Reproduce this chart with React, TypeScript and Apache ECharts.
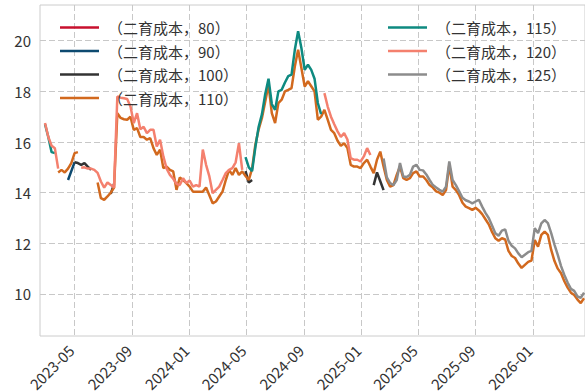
import React, { useEffect, useRef } from 'react';
import * as echarts from 'echarts';

// Weekly observations, first week starting on this date
const START_DATE = '2023-02-27';
const N_POINTS = 165;

const tickDates = ['2023-05-01', '2023-09-01', '2024-01-01', '2024-05-01', '2024-09-01', '2025-01-01', '2025-05-01', '2025-09-01', '2026-01-01'];
const yTicks = [10, 12, 14, 16, 18, 20];

const names = ['（二育成本，80）', '（二育成本，90）', '（二育成本，100）', '（二育成本，110）', '（二育成本，115）', '（二育成本，120）', '（二育成本，125）'];
const colors = ['#c8102e', '#0d4a70', '#333333', '#d2691e', '#0e8a80', '#f4806e', '#8c8c8c'];

// segments: [start week index, values]
const s80: Array<[number, number[]]> = [];
const s90: Array<[number, number[]]> = [[7, [14.5, 14.85, 15.2]]];
const s100: Array<[number, number[]]> = [
  [9, [15.2, 15.17, 15.1, 15.17, 15.03, 14.9]],
  [20, [13.95, 14.35]],
  [61, [14.85, 14.4, 14.5]],
  [100, [14.3, 14.8, 14.45, 14.1]],
];
const s110: Array<[number, number[]]> = [
  [4, [14.8, 14.9, 14.8, 14.95, 15.17, 15.56, 15.6]],
  [16, [
    14.4, 13.78, 13.72, 13.85, 14.0, 14.2, 17.14, 16.95, 16.9, 16.88,
    17.0, 16.48, 16.55, 16.2, 16.2, 16.09, 16.15, 15.76, 15.49, 15.7,
    14.97, 15.03, 14.9, 14.84, 14.11, 14.6, 14.5, 14.38, 14.24, 14.04,
    14.04, 14.04, 14.04, 14.2, 13.9, 13.58, 13.65, 13.85, 14.04, 14.5,
    14.9, 14.7, 14.97, 14.7, 14.84, 14.66, 14.5, 14.95, 15.9, 16.5,
    16.95, 17.6, 18.26, 17.14, 16.75, 17.54, 17.67, 18.0, 18.06, 18.13,
    18.98, 19.64, 18.92, 18.19, 18.4, 18.2, 18.0, 16.88, 17.0, 17.27,
    16.88, 16.48, 16.35, 16.05, 15.85, 15.95, 15.76, 15.1, 15.03, 15.03,
    14.97, 15.17, 15.3, 15.03, 14.77, 15.3, 15.62, 15.03, 14.5, 14.24,
    14.3, 14.7, 15.03, 14.57, 14.5, 14.57, 14.77, 14.84, 14.64, 14.64,
    14.5, 14.3, 14.2, 14.05, 14.0, 13.91, 14.1, 15.1, 14.24, 14.1,
    13.9, 13.6, 13.45, 13.39, 13.32, 13.4, 13.3, 13.15, 12.95, 12.75,
    12.45, 12.2, 12.1, 12.2, 12.15, 11.7, 11.5, 11.42, 11.2, 11.03,
    11.15, 11.27, 11.32, 12.13, 11.87, 12.33, 12.46, 12.33, 11.74, 11.3,
    11.0, 10.82, 10.5, 10.25, 10.05, 9.96, 9.78, 9.64, 9.83,
  ]],
];
const s115: Array<[number, number[]]> = [
  [0, [16.7, 16.2, 15.6, 15.56]],
  [61, [
    15.4, 15.0, 14.85, 15.8, 16.6, 17.1, 17.9, 18.5, 17.5, 17.27,
    18.0, 18.06, 18.35, 18.6, 18.66, 19.64, 20.37, 19.71, 18.85, 19.05,
    18.85, 18.5, 17.54, 17.1,
  ]],
];
const s120: Array<[number, number[]]> = [
  [0, [16.75, 16.2, 15.85, 15.75, 14.95]],
  [11, [
    14.98, 15.0, 14.95, 14.95, 14.9, 14.78, 14.44, 14.2, 14.4, 14.3,
    14.2, 17.8, 17.75, 17.73, 17.7, 17.4, 16.75, 17.14, 16.5, 16.6,
    16.35, 16.48, 16.48, 15.82, 16.09, 15.43, 14.95, 14.7, 14.55, 14.35,
    14.3, 14.57, 14.38, 14.48, 14.24, 14.3, 14.24, 15.7, 15.1, 14.64,
    13.98, 14.11, 14.24, 14.5, 14.77, 14.9, 14.97, 15.2, 15.95, 14.9,
  ]],
  [85, [17.93, 17.4, 17.0, 16.7, 16.42, 16.2, 16.35, 16.1, 15.36, 15.3, 15.3, 15.23, 15.43, 15.76, 15.49]],
];
const s125: Array<[number, number[]]> = [
  [103, [
    15.35, 14.6, 14.38, 14.3, 14.5, 15.17, 14.64, 14.62, 14.7, 15.03,
    15.1, 14.9, 14.88, 14.72, 14.5, 14.3, 14.2, 14.11, 14.04, 14.24,
    15.23, 14.5, 14.3, 14.05, 13.8, 13.7, 13.65, 13.58, 13.65, 13.72,
    13.45, 13.2, 13.0, 12.7, 12.4, 12.3, 12.5, 12.55, 12.1, 11.9,
    11.8, 11.6, 11.45, 11.55, 11.65, 11.7, 12.6, 12.4, 12.79, 12.92,
    12.8, 12.4, 11.95, 11.54, 11.1, 10.75, 10.45, 10.2, 10.12, 9.9,
    9.85, 10.05,
  ]],
];

const allSegments = [s80, s90, s100, s110, s115, s120, s125];

const DAY = 86400000;
const BASE = Date.UTC(2023, 4, 1);
const dayOf = (s: string) => (Date.parse(s + 'T00:00:00Z') - BASE) / DAY;
const fmt = (d: number) => {
  const dt = new Date(BASE + Math.round(d) * DAY);
  return `${dt.getUTCFullYear()}-${String(dt.getUTCMonth() + 1).padStart(2, '0')}`;
};

function build(parts: Array<[number, number[]]>) {
  const arr: (number | null)[] = new Array(N_POINTS).fill(null);
  parts.forEach(([s, vals]) => vals.forEach((v, i) => { arr[s + i] = v; }));
  const start = dayOf(START_DATE);
  return arr.map((v, k) => [start + 7 * k, v === null ? '-' : v]);
}

const FONT = '"Noto Sans CJK SC", "Noto Sans", sans-serif';

export default function App() {
  const ref = useRef<HTMLDivElement>(null);
  useEffect(() => {
    if (!ref.current) return;
    const chart = echarts.init(ref.current, undefined, { renderer: 'svg' });
    const xTicks = tickDates.map(dayOf);
    const legendText = { fontSize: 15, color: '#333333', fontFamily: FONT, padding: [0, 0, 0, 4] };
    chart.setOption({
      animation: false,
      backgroundColor: '#ffffff',
      grid: { left: 40, right: 0, top: 5, bottom: 55, show: true, borderColor: '#cccccc', borderWidth: 1, containLabel: false, outerBoundsMode: 'none' },
      legend: [
        { data: names.slice(0, 4), orient: 'vertical', left: 55, top: 15, icon: 'rect', itemWidth: 39, itemHeight: 2.5, itemGap: 8.5, textStyle: legendText, selectedMode: false },
        { data: names.slice(4), orient: 'vertical', left: 383, top: 15, icon: 'rect', itemWidth: 39, itemHeight: 2.5, itemGap: 8.5, textStyle: legendText, selectedMode: false },
      ],
      xAxis: {
        type: 'value',
        min: -73.7,
        max: 1087,
        axisLine: { show: false },
        axisTick: { show: false, customValues: xTicks },
        axisLabel: { customValues: xTicks, formatter: (v: number) => fmt(v), rotate: 45, fontSize: 15, color: '#333333', fontFamily: FONT, margin: 8, padding: [0, 5, 0, 0] },
        splitLine: { show: true, lineStyle: { color: '#c8c8c8', width: 1, type: [6, 3] } },
      },
      yAxis: {
        type: 'value',
        min: 8.34,
        max: 21.41,
        axisLine: { show: false },
        axisTick: { show: false, customValues: yTicks },
        axisLabel: { customValues: yTicks, fontSize: 15, color: '#333333', fontFamily: FONT, margin: 9 },
        splitLine: { show: true, lineStyle: { color: '#c8c8c8', width: 1, type: [6, 3] } },
      },
      series: names.map((n, i) => ({
        name: n,
        type: 'line',
        data: build(allSegments[i]),
        showSymbol: false,
        symbol: 'none',
        connectNulls: false,
        color: colors[i],
        lineStyle: { width: 2.5, color: colors[i] },
      })),
    });
    return () => chart.dispose();
  }, []);
  return <div ref={ref} style={{ position: 'fixed', left: 0, top: 0, width: 585, height: 391 }} />;
}
